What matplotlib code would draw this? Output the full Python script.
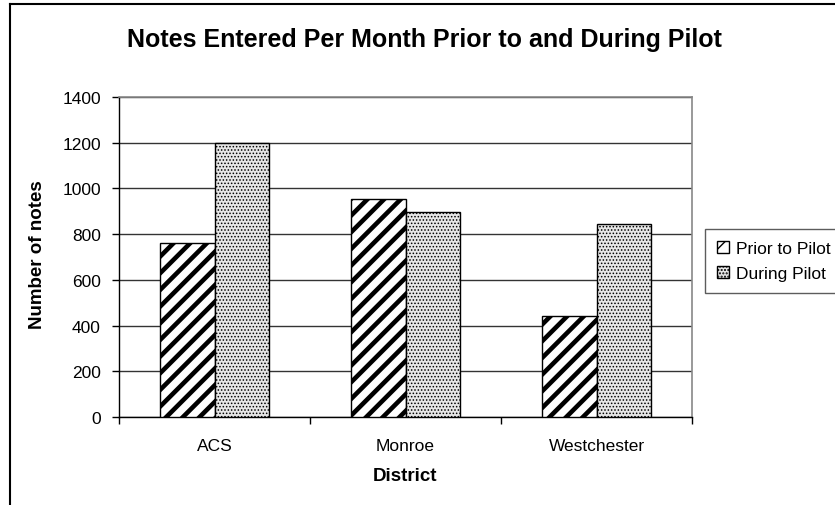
import matplotlib
matplotlib.use("Agg")
import matplotlib.pyplot as plt
import numpy as np
from matplotlib.lines import Line2D

districts = ["ACS", "Monroe", "Westchester"]
prior = [760, 955, 443]
during = [1200, 897, 845]
series_names = ["Prior to Pilot", "During Pilot"]
yticks = [0, 200, 400, 600, 800, 1000, 1200, 1400]

plt.rcParams['font.family'] = ['Liberation Sans', 'DejaVu Sans']

fig = plt.figure(figsize=(8.35, 5.06), dpi=100)
ax = fig.add_axes([119/835, 1-418/506, (692-119)/835, (418-98)/506])

x = np.arange(len(districts))
w = 0.283
HL1, HL2 = 3.3, 0.7

with plt.rc_context({'hatch.linewidth': HL1}):
    b1 = ax.bar(x - w/2, prior, w, facecolor='white', edgecolor='black',
                linewidth=1.0, hatch='//', label=series_names[0], zorder=3)
with plt.rc_context({'hatch.linewidth': HL2}):
    b2 = ax.bar(x + w/2, during, w, facecolor='#e6e6e6', edgecolor='black',
                linewidth=1.0, hatch='.....', label=series_names[1], zorder=3)
for p in b1:
    if hasattr(p, 'set_hatch_linewidth'):
        p.set_hatch_linewidth(HL1)
for p in b2:
    if hasattr(p, 'set_hatch_linewidth'):
        p.set_hatch_linewidth(HL2)

ax.set_xlim(-0.5, 2.5)
ax.set_ylim(0, 1400)
ax.set_yticks(yticks)
ax.set_yticklabels([str(v) for v in yticks], fontsize=12.5)
ax.yaxis.grid(True, color='#333333', linewidth=1.0, zorder=0)
ax.set_axisbelow(True)

ax.set_xticks([-0.5, 0.5, 1.5, 2.5])
ax.set_xticklabels([])
ax.set_xticks(x, minor=True)
ax.set_xticklabels(districts, minor=True, fontsize=12.5)
ax.tick_params(axis='x', which='minor', length=0, pad=15)
ax.tick_params(axis='x', which='major', length=5, width=1, color='black', direction='out')
ax.tick_params(axis='y', length=5, width=1, color='black', direction='out', pad=8)

for s in ['top', 'right']:
    ax.spines[s].set_color('#888888')
    ax.spines[s].set_linewidth(1.2)
for s in ['left', 'bottom']:
    ax.spines[s].set_color('black')
    ax.spines[s].set_linewidth(1.0)

fig.text(0.508, 1-40/506, "Notes Entered Per Month Prior to and During Pilot",
         ha='center', va='center', fontsize=18, fontweight='bold')
fig.text(38/835, 1-255/506, "Number of notes", rotation=90, ha='center', va='center',
         fontsize=13.5, fontweight='bold')
fig.text(405.5/835, 1-477/506, "District", ha='center', va='center',
         fontsize=13.5, fontweight='bold')

leg = fig.legend(handles=[b1, b2], labels=series_names, loc='upper left',
                 bbox_to_anchor=(705/835, 1-230/506), fontsize=12.5,
                 frameon=True, fancybox=False, edgecolor='#333333',
                 handlelength=0.7, handleheight=0.7, handletextpad=0.4,
                 borderpad=0.7, labelspacing=0.55, borderaxespad=0)
leg.get_frame().set_linewidth(1.0)

# outer figure border (left and top)
fig.add_artist(Line2D([10/835, 10/835], [0, 1-5/506], transform=fig.transFigure,
                      color='black', linewidth=1.5))
fig.add_artist(Line2D([10/835, 1], [1-5/506, 1-5/506], transform=fig.transFigure,
                      color='black', linewidth=1.5))

fig.savefig("out.png", dpi=100, facecolor='white')
